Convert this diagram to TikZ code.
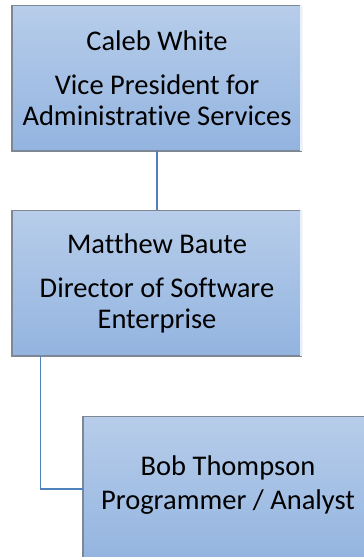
\documentclass[tikz,border=0pt]{standalone}
\usepackage{fontspec}
\setmainfont[Ligatures={NoCommon}]{Carlito}
\usetikzlibrary{calc}
\definecolor{boxtop}{HTML}{B7CDEA}
\definecolor{boxbot}{HTML}{93B4E0}
\definecolor{boxline}{HTML}{7E8794}
\definecolor{conn}{HTML}{4F81BD}
\tikzset{
  orgbox/.style={rectangle, minimum width=290pt, minimum height=145pt, inner sep=0pt,
    top color=boxtop, bottom color=boxbot, align=center,
    font=\fontsize{28.5}{31}\selectfont},
  boxtext/.style={align=center, inner sep=0pt, font=\fontsize{28.5}{31}\selectfont},
  border/.style={draw=boxline, line width=1.6pt},
  connector/.style={draw=conn, line width=1.8pt}
}
\begin{document}
\begin{tikzpicture}
\useasboundingbox (0,0) rectangle (364pt,-557pt);
\clip (0,0) rectangle (364pt,-557pt);
\node[orgbox] (b1) at (157pt,-78pt) {Caleb White\\[13pt]Vice President for\\Administrative Services};
\node[orgbox] (b2) at (157pt,-283pt) {Matthew Baute\\[13pt]Director of Software\\Enterprise};
\node[orgbox] (b3) at (228pt,-489pt) {};
\node[boxtext] (t3) at ($(b3.center)+(0,4pt)$) {Bob Thompson\\[3pt]Programmer / Analyst};
\foreach \b in {b1,b2,b3}{
  \draw[border] (\b.north east) -- (\b.north west) -- (\b.south west) -- (\b.south east);
  \draw[draw=white!70!boxtop, line width=2pt] ([xshift=-1pt]\b.north east) -- ([xshift=-1pt]\b.south east);
}
\draw[connector] (b1.south) -- (b2.north);
\coordinate (c2) at ($(b2.south west)+(28.7pt,0)$);
\draw[connector] (c2) |- (b3.west);
\end{tikzpicture}
\end{document}
